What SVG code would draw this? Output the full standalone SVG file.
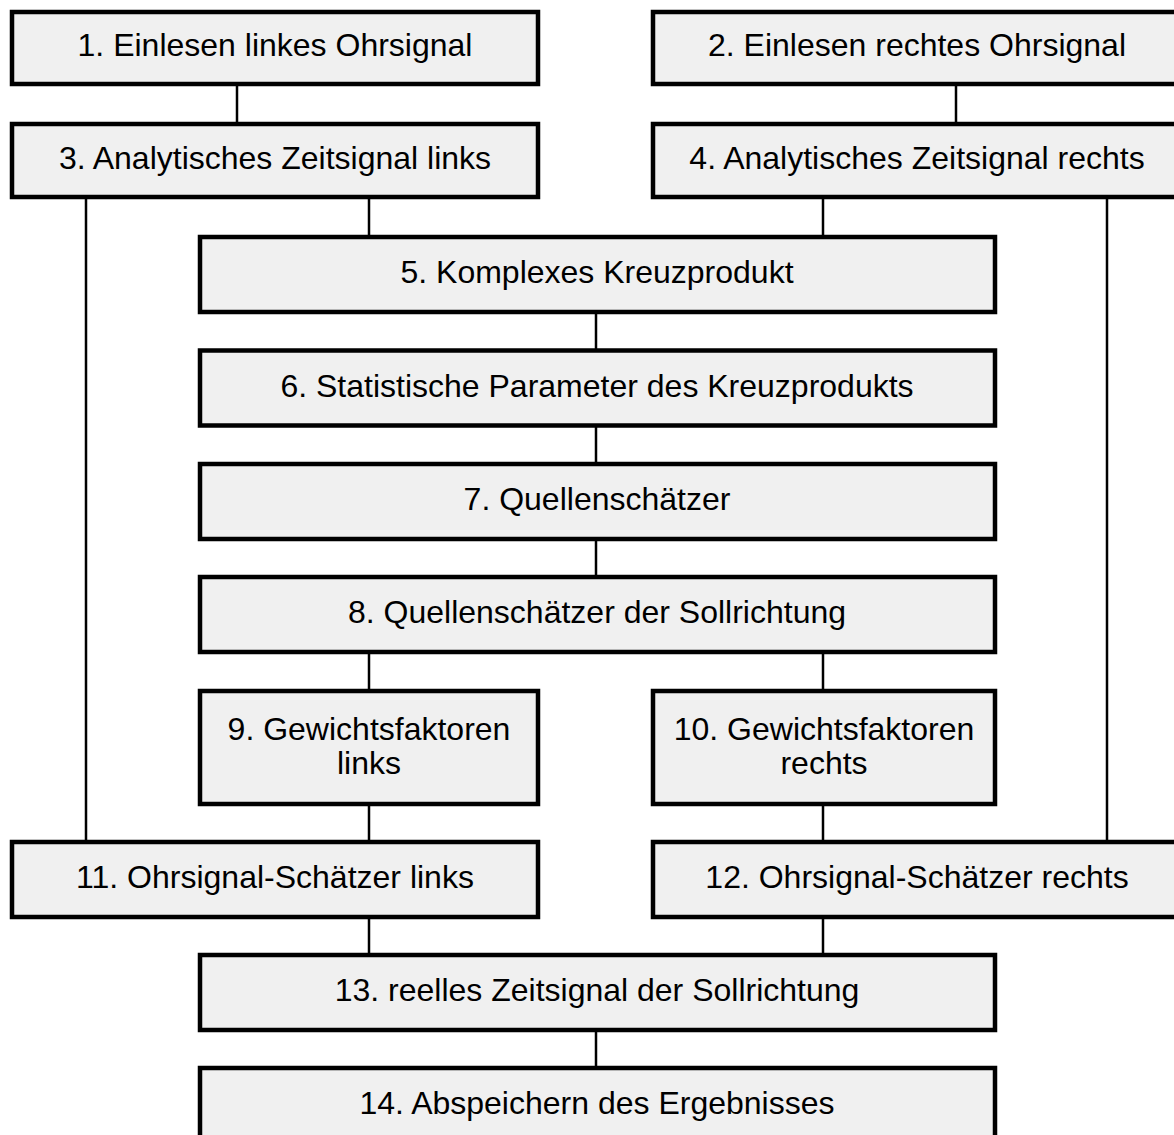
<svg xmlns="http://www.w3.org/2000/svg" width="1174" height="1135" viewBox="0 0 1174 1135">
<style>
.box{fill:#f0f0f0;stroke:#000;stroke-width:4.5}
.lbl{font-family:"Liberation Sans",Arial,sans-serif;font-size:32px;fill:#000;text-anchor:middle}
.con line{stroke:#000;stroke-width:2.5}
</style>
<rect width="1174" height="1135" fill="#fff"/>
<g class="con">
<line x1="237" y1="84" x2="237" y2="124"/>
<line x1="956" y1="84" x2="956" y2="124"/>
<line x1="369" y1="197" x2="369" y2="237"/>
<line x1="823" y1="197" x2="823" y2="237"/>
<line x1="86" y1="197" x2="86" y2="842"/>
<line x1="1107" y1="197" x2="1107" y2="842"/>
<line x1="596" y1="312" x2="596" y2="350"/>
<line x1="596" y1="426" x2="596" y2="464"/>
<line x1="596" y1="539" x2="596" y2="577"/>
<line x1="369" y1="652" x2="369" y2="691"/>
<line x1="823" y1="652" x2="823" y2="691"/>
<line x1="369" y1="804" x2="369" y2="842"/>
<line x1="823" y1="804" x2="823" y2="842"/>
<line x1="369" y1="917" x2="369" y2="955"/>
<line x1="823" y1="917" x2="823" y2="955"/>
<line x1="596" y1="1030" x2="596" y2="1068"/>
</g>
<g id="n1"><rect class="box" x="12" y="12" width="526" height="72"/><text class="lbl" x="275" y="56">1. Einlesen linkes Ohrsignal</text></g>
<g id="n2"><rect class="box" x="653" y="12" width="528" height="72"/><text class="lbl" x="917" y="56">2. Einlesen rechtes Ohrsignal</text></g>
<g id="n3"><rect class="box" x="12" y="124" width="526" height="73"/><text class="lbl" x="275" y="169">3. Analytisches Zeitsignal links</text></g>
<g id="n4"><rect class="box" x="653" y="124" width="528" height="73"/><text class="lbl" x="917" y="169">4. Analytisches Zeitsignal rechts</text></g>
<g id="n5"><rect class="box" x="200" y="237" width="795" height="75"/><text class="lbl" x="597" y="283">5. Komplexes Kreuzprodukt</text></g>
<g id="n6"><rect class="box" x="200" y="350.5" width="795" height="75"/><text class="lbl" x="597" y="396.5">6. Statistische Parameter des Kreuzprodukts</text></g>
<g id="n7"><rect class="box" x="200" y="464" width="795" height="75"/><text class="lbl" x="597" y="510">7. Quellenschätzer</text></g>
<g id="n8"><rect class="box" x="200" y="577" width="795" height="75"/><text class="lbl" x="597" y="623">8. Quellenschätzer der Sollrichtung</text></g>
<g id="n9"><rect class="box" x="200" y="691" width="338" height="113"/><text class="lbl" x="369" y="740">9. Gewichtsfaktoren</text><text class="lbl" x="369" y="774">links</text></g>
<g id="n10"><rect class="box" x="653" y="691" width="342" height="113"/><text class="lbl" x="824" y="740">10. Gewichtsfaktoren</text><text class="lbl" x="824" y="774">rechts</text></g>
<g id="n11"><rect class="box" x="12" y="842" width="526" height="75"/><text class="lbl" x="275" y="888">11. Ohrsignal-Schätzer links</text></g>
<g id="n12"><rect class="box" x="653" y="842" width="528" height="75"/><text class="lbl" x="917" y="888">12. Ohrsignal-Schätzer rechts</text></g>
<g id="n13"><rect class="box" x="200" y="955" width="795" height="75"/><text class="lbl" x="597" y="1001">13. reelles Zeitsignal der Sollrichtung</text></g>
<g id="n14"><rect class="box" x="200" y="1068" width="795" height="75"/><text class="lbl" x="597" y="1114">14. Abspeichern des Ergebnisses</text></g>
</svg>
